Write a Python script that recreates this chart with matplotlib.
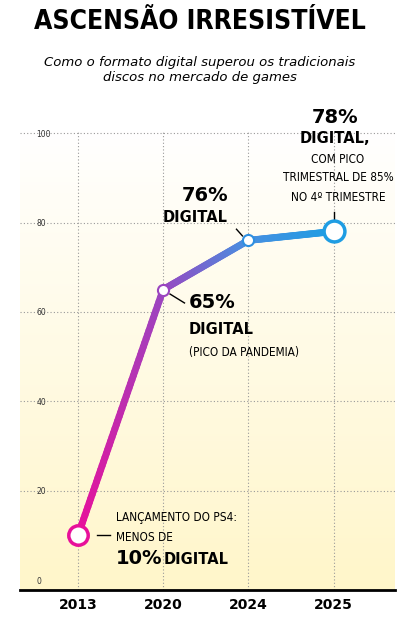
import numpy as np
import matplotlib
matplotlib.use("Agg")
import matplotlib.pyplot as plt
from matplotlib.collections import LineCollection
from matplotlib.colors import LinearSegmentedColormap

years = ["2013", "2020", "2024", "2025"]
digital_share = [10, 65, 76, 78]
y_ticks = [0, 20, 40, 60, 80, 100]

fig = plt.figure(figsize=(4.0, 6.19), dpi=100)
ax = fig.add_axes([0.05, 0.047, 0.9375, 0.743])
ax.set_xlim(-0.68, 3.72)
ax.set_ylim(-2.2, 100.7)

# soft yellow background gradient
bg = LinearSegmentedColormap.from_list("bg", ["#fff6c4", "#ffffff"])
ax.imshow(np.linspace(0, 1, 256).reshape(-1, 1), cmap=bg, aspect="auto",
          extent=[-0.68, 3.72, -2.2, 100.7], origin="lower", zorder=0, alpha=0.9)

for t in y_ticks[1:]:
    ax.axhline(t, color="#999999", lw=0.8, ls=(0, (1, 2)), zorder=1)
for i in range(len(years)):
    ax.axvline(i, color="#999999", lw=0.8, ls=(0, (1, 2)), zorder=1)

# gradient line (subdivided only for colouring)
xs = np.arange(len(years))
px, py = [], []
for i in range(len(xs) - 1):
    px.extend(np.linspace(xs[i], xs[i + 1], 60, endpoint=False))
    py.extend(np.linspace(digital_share[i], digital_share[i + 1], 60, endpoint=False))
px.append(xs[-1]); py.append(digital_share[-1])
pts = np.array([px, py]).T.reshape(-1, 1, 2)
segs = np.concatenate([pts[:-1], pts[1:]], axis=1)
cmap = LinearSegmentedColormap.from_list("line", [(0, "#e8109a"), (0.33, "#9b45c0"),
                                                  (0.66, "#4a8ee0"), (1, "#1f9de3")])
lc = LineCollection(segs, cmap=cmap, linewidth=5, zorder=3, capstyle="round")
lc.set_array(np.array(px[:-1]) / 3)
ax.add_collection(lc)

marker_cols = ["#e8109a", "#9b45c0", "#2e8fe0", "#1f9de3"]
marker_sizes = [14, 8, 8, 15]
for i, v in enumerate(digital_share):
    ax.plot(i, v, "o", ms=marker_sizes[i], mfc="white", mec=marker_cols[i],
            mew=2.5 if marker_sizes[i] > 10 else 1.5, zorder=4)

ax.set_yticks(y_ticks)
ax.set_yticklabels([str(t) for t in y_ticks], fontsize=5.5, color="#333333")
ax.tick_params(axis="y", length=0, pad=-12)
for lab in ax.get_yticklabels():
    lab.set_horizontalalignment("left")
ax.set_xticks(xs)
ax.set_xticklabels(years, fontsize=10, fontweight="bold")
ax.tick_params(axis="x", length=0, pad=6)
for s in ["top", "right", "left"]:
    ax.spines[s].set_visible(False)
ax.spines["bottom"].set_linewidth(2)

body = dict(fontsize=8.5, fontstretch="condensed", family="DejaVu Sans")
big = dict(fontsize=14, fontweight="black")
mid = dict(fontsize=10.5, fontweight="black")

# 2013
ax.plot([0.22, 0.38], [10, 10], color="black", lw=1, zorder=2)
ax.text(0.45, 13.9, "LANÇAMENTO DO PS4:", va="center", ha="left", **body)
ax.text(0.45, 9.6, "MENOS DE", va="center", ha="left", **body)
ax.text(0.45, 4.9, "10%", va="center", ha="left", **big)
ax.text(1.0, 4.7, "DIGITAL", va="center", ha="left", **mid)

# 2020
ax.plot([1.08, 1.25], [64, 62], color="black", lw=1, zorder=2)
ax.text(1.3, 62.1, "65%", va="center", ha="left", **big)
ax.text(1.3, 56.0, "DIGITAL", va="center", ha="left", **mid)
ax.text(1.3, 51.0, "(PICO DA PANDEMIA)", va="center", ha="left", **body)

# 2024
ax.plot([1.86, 1.93], [78.5, 77.0], color="black", lw=1, zorder=2)
ax.text(1.76, 86.1, "76%", va="center", ha="right", **big)
ax.text(1.76, 81.2, "DIGITAL", va="center", ha="right", **mid)

# 2025
ax.plot([3.0, 3.0], [80.5, 82.3], color="black", lw=1, zorder=2)
ax.text(3.02, 103.6, "78%", va="center", ha="center", clip_on=False, **big)
ax.text(3.02, 98.9, "DIGITAL,", va="center", ha="center", **mid)
ax.text(3.05, 94.2, "COM PICO", va="center", ha="center", **body)
ax.text(3.05, 90.0, "TRIMESTRAL DE 85%", va="center", ha="center", **body)
ax.text(3.05, 85.7, "NO 4º TRIMESTRE", va="center", ha="center", **body)

fig.text(0.5, 0.964, "ASCENSÃO IRRESISTÍVEL", ha="center", va="center",
         fontsize=19, fontweight="bold", fontstretch="condensed")
fig.text(0.5, 0.887, "Como o formato digital superou os tradicionais\ndiscos no mercado de games",
         ha="center", va="center", fontsize=9.5, style="italic", linespacing=1.2)

fig.savefig("out.png", dpi=100)
